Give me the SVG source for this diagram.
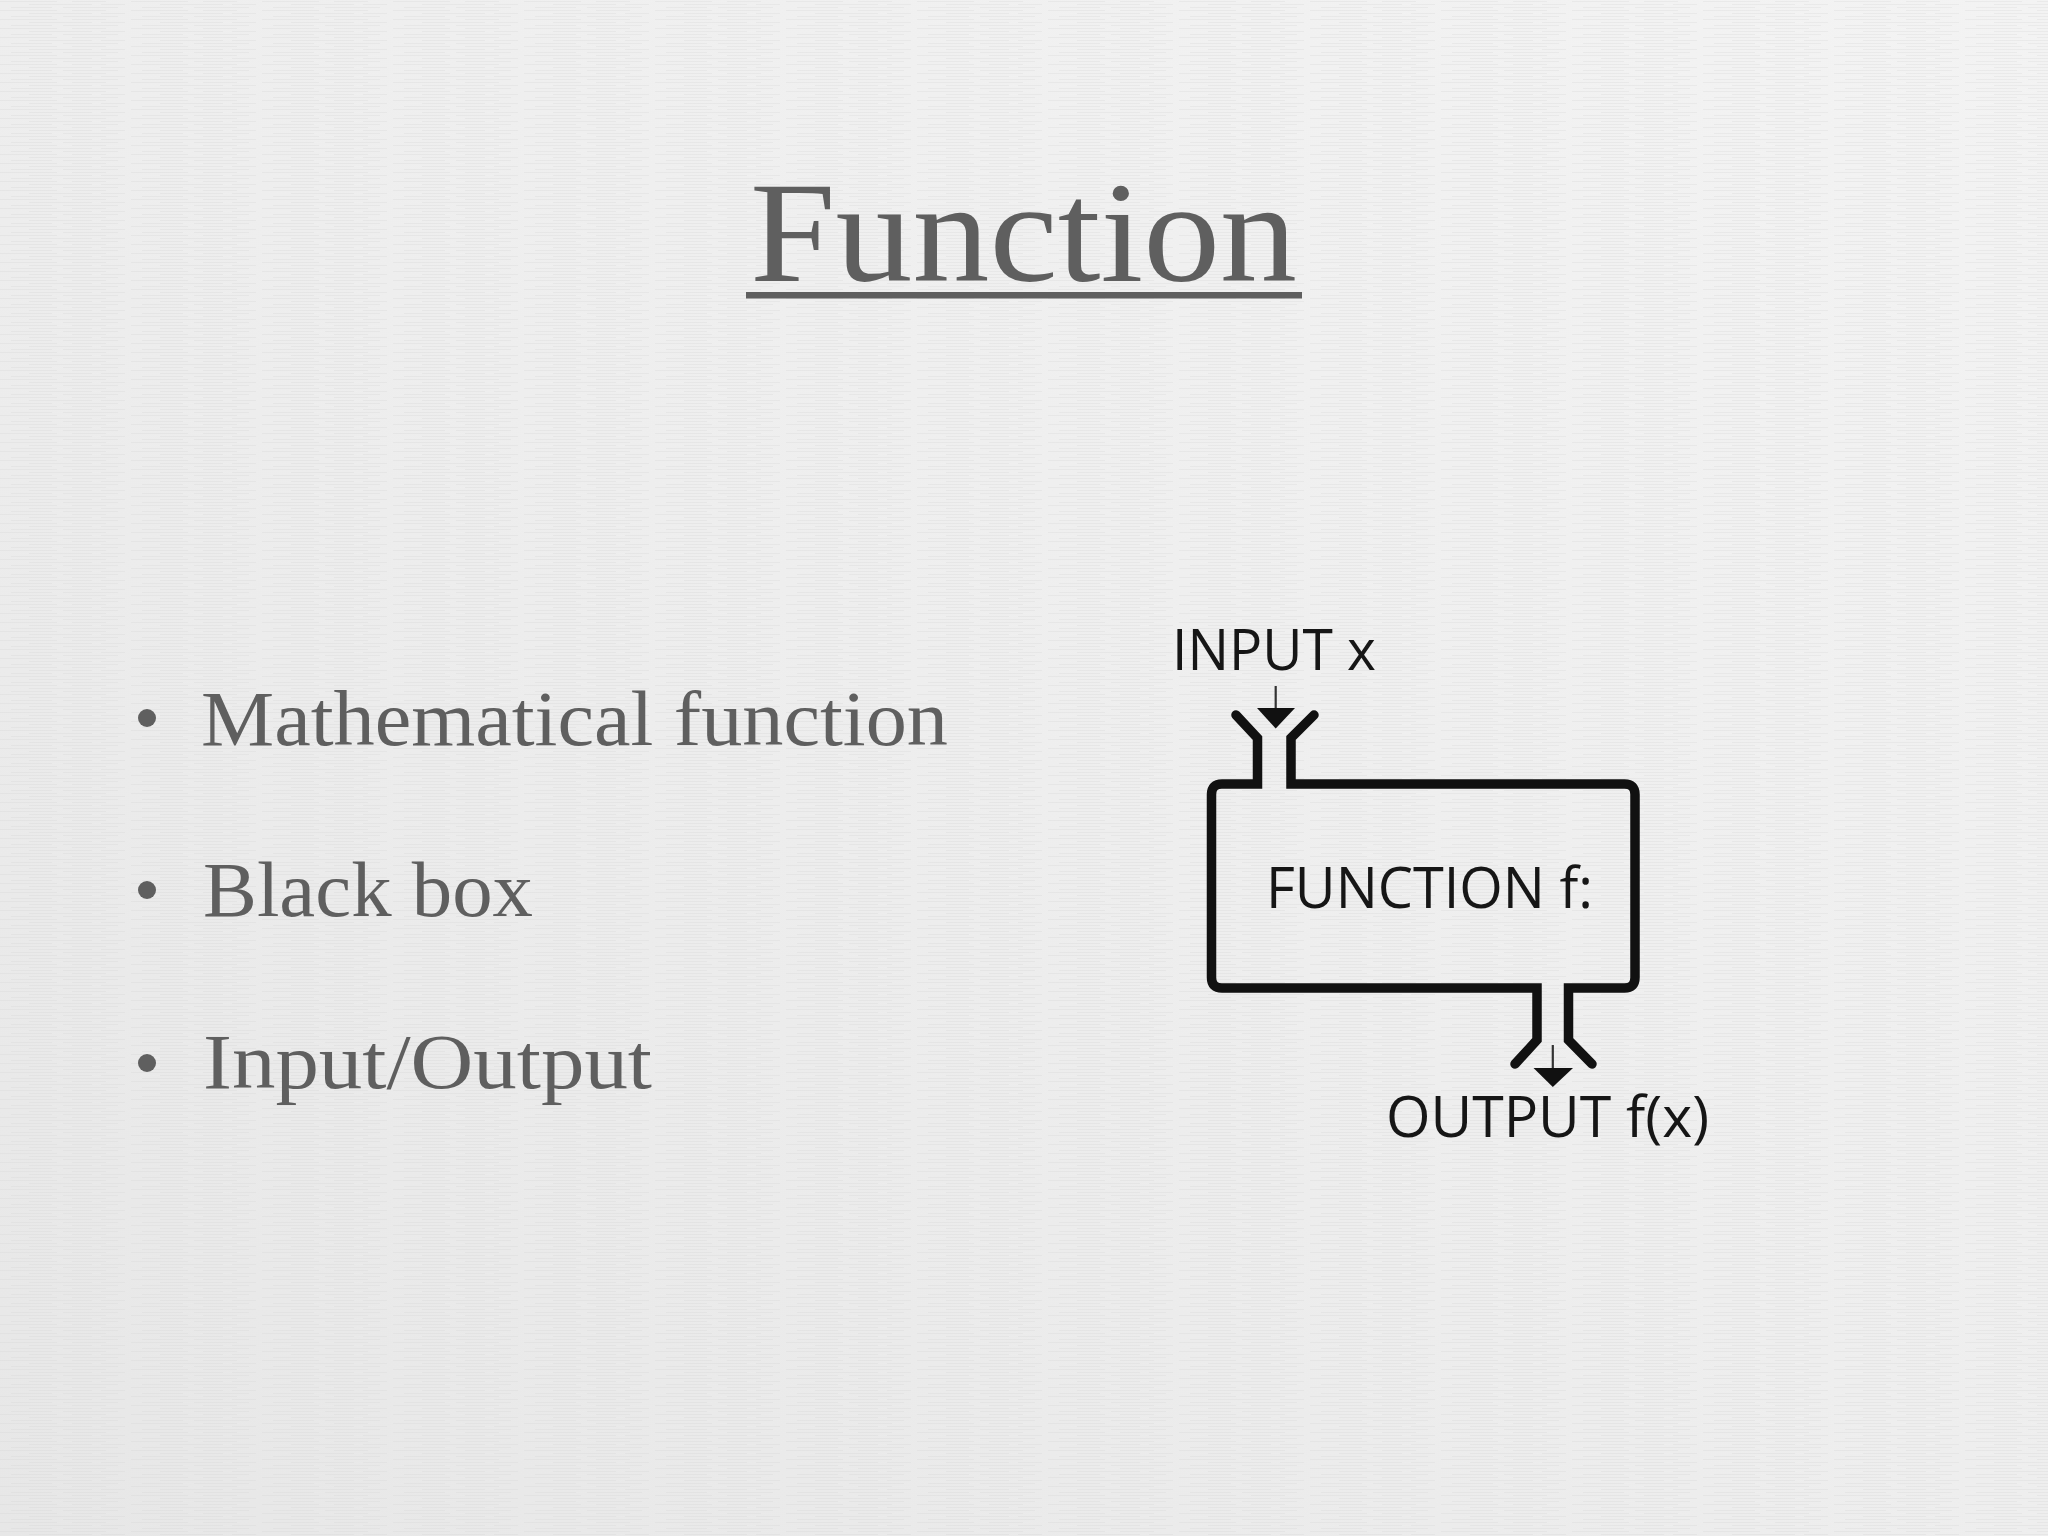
<svg xmlns="http://www.w3.org/2000/svg" width="2048" height="1536" viewBox="0 0 2048 1536">
  <defs>
    <linearGradient id="bg" x1="1" y1="0" x2="0" y2="1">
      <stop offset="0" stop-color="#f3f3f3"/>
      <stop offset="0.5" stop-color="#eeeeee"/>
      <stop offset="1" stop-color="#e7e7e7"/>
    </linearGradient>
    <pattern id="paper" width="131" height="9" patternUnits="userSpaceOnUse">
      <rect x="0" y="1" width="57" height="1" fill="#d6d6d6" opacity="0.3"/>
      <rect x="72" y="1" width="34" height="1" fill="#d6d6d6" opacity="0.3"/>
      <rect x="29" y="4" width="63" height="1" fill="#d6d6d6" opacity="0.3"/>
      <rect x="101" y="4" width="24" height="1" fill="#d6d6d6" opacity="0.3"/>
      <rect x="11" y="7" width="41" height="1" fill="#d6d6d6" opacity="0.3"/>
      <rect x="63" y="7" width="55" height="1" fill="#d6d6d6" opacity="0.3"/>
    </pattern>
    <style>
      .title { font-family: "Liberation Serif", "Times New Roman", serif; font-size: 145px; fill: #5f5f5f; }
      .bullet { font-family: "Liberation Serif", "Times New Roman", serif; font-size: 78px; fill: #5f5f5f; }
      .dot { fill: #5f5f5f; }
      .lbl { font-family: "Open Sans", "Liberation Sans", sans-serif; font-size: 56px; fill: #161616; }
      .wall { fill: none; stroke: #111111; stroke-width: 9.5; stroke-linejoin: miter; stroke-linecap: round; }
      .shaft { stroke: #333333; stroke-width: 2.2; }
      .head { fill: #111111; }
    </style>
  </defs>

  <rect width="2048" height="1536" fill="url(#bg)"/>
  <rect width="2048" height="1536" fill="url(#paper)"/>

  <g id="title">
    <text class="title" x="750" y="281" textLength="547" lengthAdjust="spacingAndGlyphs">Function</text>
    <rect x="746" y="292" width="556" height="6.5" fill="#5f5f5f"/>
  </g>

  <g id="bullets">
    <circle class="dot" cx="147" cy="718" r="9"/>
    <text class="bullet" x="201" y="745" textLength="747" lengthAdjust="spacingAndGlyphs">Mathematical function</text>
    <circle class="dot" cx="147" cy="890" r="9"/>
    <text class="bullet" x="203" y="916" textLength="330" lengthAdjust="spacingAndGlyphs">Black box</text>
    <circle class="dot" cx="147" cy="1063" r="9"/>
    <text class="bullet" x="203" y="1088" textLength="449" lengthAdjust="spacingAndGlyphs">Input/Output</text>
  </g>

  <g id="function-box">
    <path class="wall" d="M1236,715 L1257.5,738 L1257.5,784 L1222,784 Q1211.5,784 1211.5,794.5 L1211.5,977.5 Q1211.5,988 1222,988 L1537,988 L1537,1040 L1515,1064"/>
    <path class="wall" d="M1314,715 L1291,738 L1291,784 L1624.5,784 Q1635,784 1635,794.5 L1635,977.5 Q1635,988 1624.5,988 L1568.5,988 L1568.5,1040 L1592,1064"/>
    <text class="lbl" x="1266" y="908" textLength="327" lengthAdjust="spacingAndGlyphs">FUNCTION f:</text>
  </g>

  <g id="input-label">
    <text class="lbl" x="1172" y="670" textLength="204" lengthAdjust="spacingAndGlyphs">INPUT x</text>
  </g>

  <g id="output-label">
    <text class="lbl" x="1386" y="1137" textLength="323" lengthAdjust="spacingAndGlyphs">OUTPUT f(x)</text>
  </g>

  <g id="connectors">
    <line class="shaft" x1="1275.7" y1="686" x2="1275.7" y2="710"/>
    <polygon class="head" points="1257,708 1295,708 1275.7,728.5"/>
    <line class="shaft" x1="1552.8" y1="1045" x2="1552.8" y2="1070"/>
    <polygon class="head" points="1533.5,1068 1573,1068 1552.8,1087"/>
  </g>
</svg>
